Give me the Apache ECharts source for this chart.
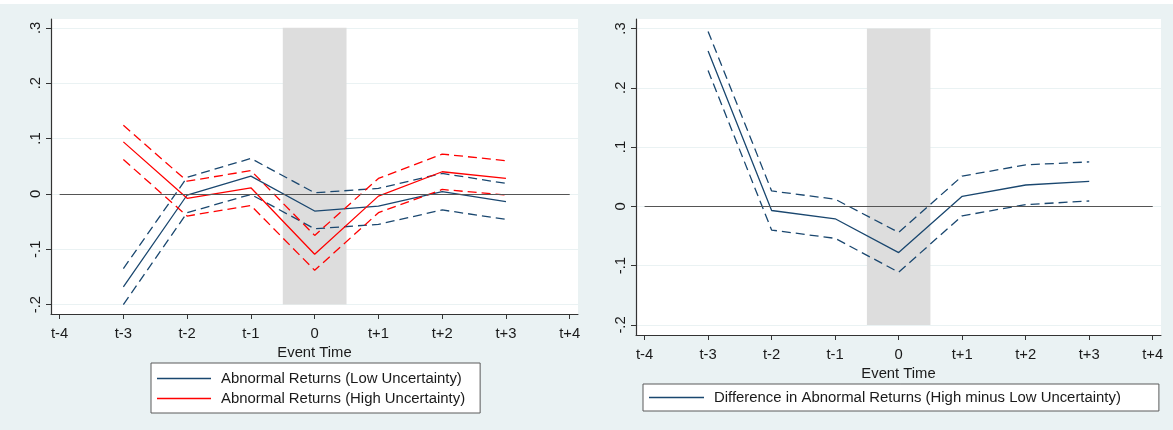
<!DOCTYPE html>
<html>
<head>
<meta charset="utf-8">
<script src="https://cdn.jsdelivr.net/npm/echarts@6/dist/echarts.min.js"></script>
<style>
html,body{margin:0;padding:0;background:#ffffff;}
#chart{width:1173px;height:430px;}
</style>
</head>
<body>
<div id="chart"></div>
<script>
// ---- data ----
const categories = ['t-4','t-3','t-2','t-1','0','t+1','t+2','t+3','t+4'];
const tickPositions = [-4,-3,-2,-1,0,1,2,3,4];
const eventTimes = [-3,-2,-1,0,1,2,3];
const yTickValues = [-0.2,-0.1,0,0.1,0.2,0.3];
const yTickLabels = ['-.2','-.1','0','.1','.2','.3'];

const lowAR    = [-0.168,-0.002, 0.032,-0.031,-0.022, 0.004,-0.014];
const lowUpper = [-0.135, 0.030, 0.064, 0.002, 0.010, 0.037, 0.019];
const lowLower = [-0.200,-0.034,-0.001,-0.063,-0.055,-0.029,-0.046];

const highAR    = [ 0.094,-0.008, 0.011,-0.109,-0.004, 0.040, 0.028];
const highUpper = [ 0.124, 0.023, 0.042,-0.075, 0.028, 0.072, 0.060];
const highLower = [ 0.062,-0.040,-0.021,-0.138,-0.034, 0.008,-0.002];

const diffAR    = [ 0.262,-0.007,-0.021,-0.078, 0.017, 0.036, 0.042];
const diffUpper = [ 0.295, 0.026, 0.012,-0.044, 0.051, 0.070, 0.075];
const diffLower = [ 0.229,-0.040,-0.054,-0.111,-0.016, 0.003, 0.009];

const eventWindow = [-0.5, 0.5];

const nameLow = 'Abnormal Returns (Low Uncertainty)';
const nameHigh = 'Abnormal Returns (High Uncertainty)';
const nameDiff = 'Difference in Abnormal Returns (High minus Low Uncertainty)';

// ---- styles ----
const NAVY = '#1a476f';
const RED = '#ff0000';
const BG = '#eaf2f3';
const FONT = "'Liberation Sans', Arial, sans-serif";
const TXT = '#1a1a1a';
const AXC = '#333333';

function pairs(vals){ return eventTimes.map((t,i)=>[t, vals[i]]); }

function xAxisFor(gi){
  return {
    type:'value', gridIndex:gi, min:-4.135, max:4.13,
    name:'Event Time', nameLocation:'middle', nameGap:27,
    nameTextStyle:{fontFamily:FONT, fontSize:14.8, color:TXT},
    axisLine:{show:true, onZero:false, lineStyle:{color:AXC, width:1}},
    axisTick:{show:true, length:5, customValues:tickPositions, lineStyle:{color:AXC, width:1}},
    axisLabel:{customValues:tickPositions, margin:12, fontFamily:FONT, fontSize:14.8, color:TXT,
      formatter:(v)=>categories[tickPositions.indexOf(Math.round(v))]},
    splitLine:{show:false}
  };
}
function yAxisFor(gi){
  return {
    type:'value', gridIndex:gi, min:-0.217, max:0.316,
    axisLine:{show:true, onZero:false, lineStyle:{color:AXC, width:1.2}},
    axisTick:{show:true, length:5, customValues:yTickValues, lineStyle:{color:AXC, width:1}},
    axisLabel:{customValues:yTickValues, rotate:90, margin:8, fontFamily:FONT, fontSize:14.8, color:TXT,
      formatter:(v)=>{ let k=-1; yTickValues.forEach((t,i)=>{ if(Math.abs(t-v)<1e-6) k=i; }); return k>=0?yTickLabels[k]:''; }},
    splitLine:{show:true, lineStyle:{color:BG, width:1.2}}
  };
}

function helperSeries(gi){
  return {
    type:'line', xAxisIndex:gi, yAxisIndex:gi, data:[], symbol:'none', silent:true,
    markArea:{silent:true, itemStyle:{color:'#dddddd'},
      data:[[{xAxis:eventWindow[0], yAxis:yTickValues[0]},{xAxis:eventWindow[1], yAxis:yTickValues[yTickValues.length-1]}]]},
    markLine:{silent:true, symbol:'none', label:{show:false}, lineStyle:{color:'#555555', width:1, type:'solid'},
      data:[[{coord:[tickPositions[0],0]},{coord:[tickPositions[tickPositions.length-1],0]}]]}
  };
}
function lineSeries(gi, name, vals, color, dashed){
  return {
    type:'line', name:name, xAxisIndex:gi, yAxisIndex:gi, data:pairs(vals),
    symbol:'none', z:3, silent:true,
    lineStyle:{color:color, width:1.3, type: dashed ? [9,5] : 'solid'},
    itemStyle:{color:color}
  };
}

const chart = echarts.init(document.getElementById('chart'), null, {renderer:'canvas'});
chart.setOption({
  animation:false,
  backgroundColor:BG,
  textStyle:{fontFamily:FONT},
  graphic:[{type:'rect', left:0, top:0, shape:{width:1173, height:4}, style:{fill:'#ffffff'}, silent:true}],
  grid:[
    {left:51, top:19, width:527, height:295, show:true, backgroundColor:'#ffffff', borderWidth:0},
    {left:636, top:19, width:525, height:316, show:true, backgroundColor:'#ffffff', borderWidth:0}
  ],
  xAxis:[xAxisFor(0), xAxisFor(1)],
  yAxis:[yAxisFor(0), yAxisFor(1)],
  legend:[
    {orient:'vertical', left:151, top:363, data:[nameLow, nameHigh],
     icon:'rect', padding:[7,15,6,6], itemWidth:54, itemHeight:1.6, itemGap:3,
     backgroundColor:'#ffffff', borderColor:'#5a5a5a', borderWidth:1,
     textStyle:{fontFamily:FONT, fontSize:14.9, lineHeight:17, color:TXT, padding:[0,0,0,5]}, selectedMode:false},
    {orient:'horizontal', left:643, top:384, data:[nameDiff],
     icon:'rect', padding:[5,38,5,6], itemWidth:55, itemHeight:1.6,
     backgroundColor:'#ffffff', borderColor:'#5a5a5a', borderWidth:1,
     textStyle:{fontFamily:FONT, fontSize:14.9, lineHeight:17, color:TXT, padding:[0,0,0,5]}, selectedMode:false}
  ],
  series:[
    helperSeries(0),
    lineSeries(0, nameLow, lowAR, NAVY, false),
    lineSeries(0, 'low_upper', lowUpper, NAVY, true),
    lineSeries(0, 'low_lower', lowLower, NAVY, true),
    lineSeries(0, nameHigh, highAR, RED, false),
    lineSeries(0, 'high_upper', highUpper, RED, true),
    lineSeries(0, 'high_lower', highLower, RED, true),
    helperSeries(1),
    lineSeries(1, nameDiff, diffAR, NAVY, false),
    lineSeries(1, 'diff_upper', diffUpper, NAVY, true),
    lineSeries(1, 'diff_lower', diffLower, NAVY, true)
  ]
});
</script>
</body>
</html>
